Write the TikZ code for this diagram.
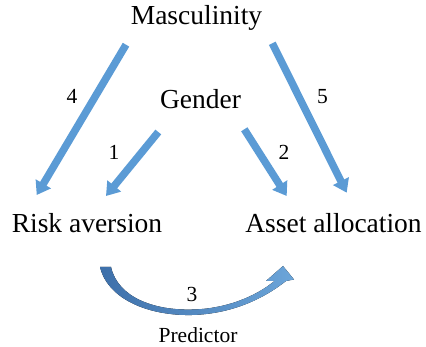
\documentclass[tikz,border=0pt]{standalone}
\usepackage{fontspec}
\setmainfont{Liberation Serif}
\usetikzlibrary{arrows.meta}
\definecolor{arrowblue}{RGB}{91,155,213}
\definecolor{arrowdark}{RGB}{62,112,170}

\begin{document}
\begin{tikzpicture}[x=1pt,y=-1pt,
  bigtext/.style={anchor=base,inner sep=0pt,font=\fontsize{27.5}{30}\selectfont},
  smalltext/.style={anchor=base,inner sep=0pt,font=\fontsize{21.5}{24}\selectfont},
  blockarrow/.style={line width=7.5pt,arrowblue,-{Triangle[width=17pt,length=13pt]}}]
  \useasboundingbox (0,0) rectangle (426,347);
  % variables
  \node[bigtext] (masc) at (196.5,25) {Masculinity};
  \node[bigtext] (gender) at (200.5,108.5) {Gender};
  \node[bigtext] (risk) at (87,232.3) {Risk aversion};
  \node[bigtext] (asset) at (333.5,232.3) {Asset allocation};
  % path labels
  \node[smalltext] (lab1) at (114,159.3) {1};
  \node[smalltext] (lab2) at (284,159.3) {2};
  \node[smalltext] (lab3) at (192,301.7) {3};
  \node[smalltext] (lab4) at (72,103.3) {4};
  \node[smalltext] (lab5) at (322.5,103.3) {5};
  \node[smalltext] (pred) at (198,342.7) {Predictor};
  % arrow ends
  \coordinate (a1s) at (158.3,132);   \coordinate (a1e) at (106,196);
  \coordinate (a2s) at (244.3,129.3); \coordinate (a2e) at (286.7,196);
  \coordinate (a4s) at (126,44.7);    \coordinate (a4e) at (36.7,195);
  \coordinate (a5s) at (272.3,43.3);  \coordinate (a5e) at (346.7,192.7);
  \draw[blockarrow] (a1s) -- (a1e);
  \draw[blockarrow] (a2s) -- (a2e);
  \draw[blockarrow] (a4s) -- (a4e);
  \draw[blockarrow] (a5s) -- (a5e);
  % curved arrow 3
  \coordinate (a3s) at (100,267);
  \coordinate (a3e) at (283,266);
  \fill[left color=arrowdark,right color=arrowblue!90!white]
    (a3s) .. controls (108,300) and (150,316) .. (192,315)
    .. controls (230,314) and (262,300) .. (286,281)
    -- (294,279.5) -- (a3e) -- (266,281) -- (274.5,281)
    .. controls (255,297) and (225,309) .. (192,309.5)
    .. controls (155,310.5) and (118,298) .. (111,267) -- cycle;
\end{tikzpicture}
\end{document}
